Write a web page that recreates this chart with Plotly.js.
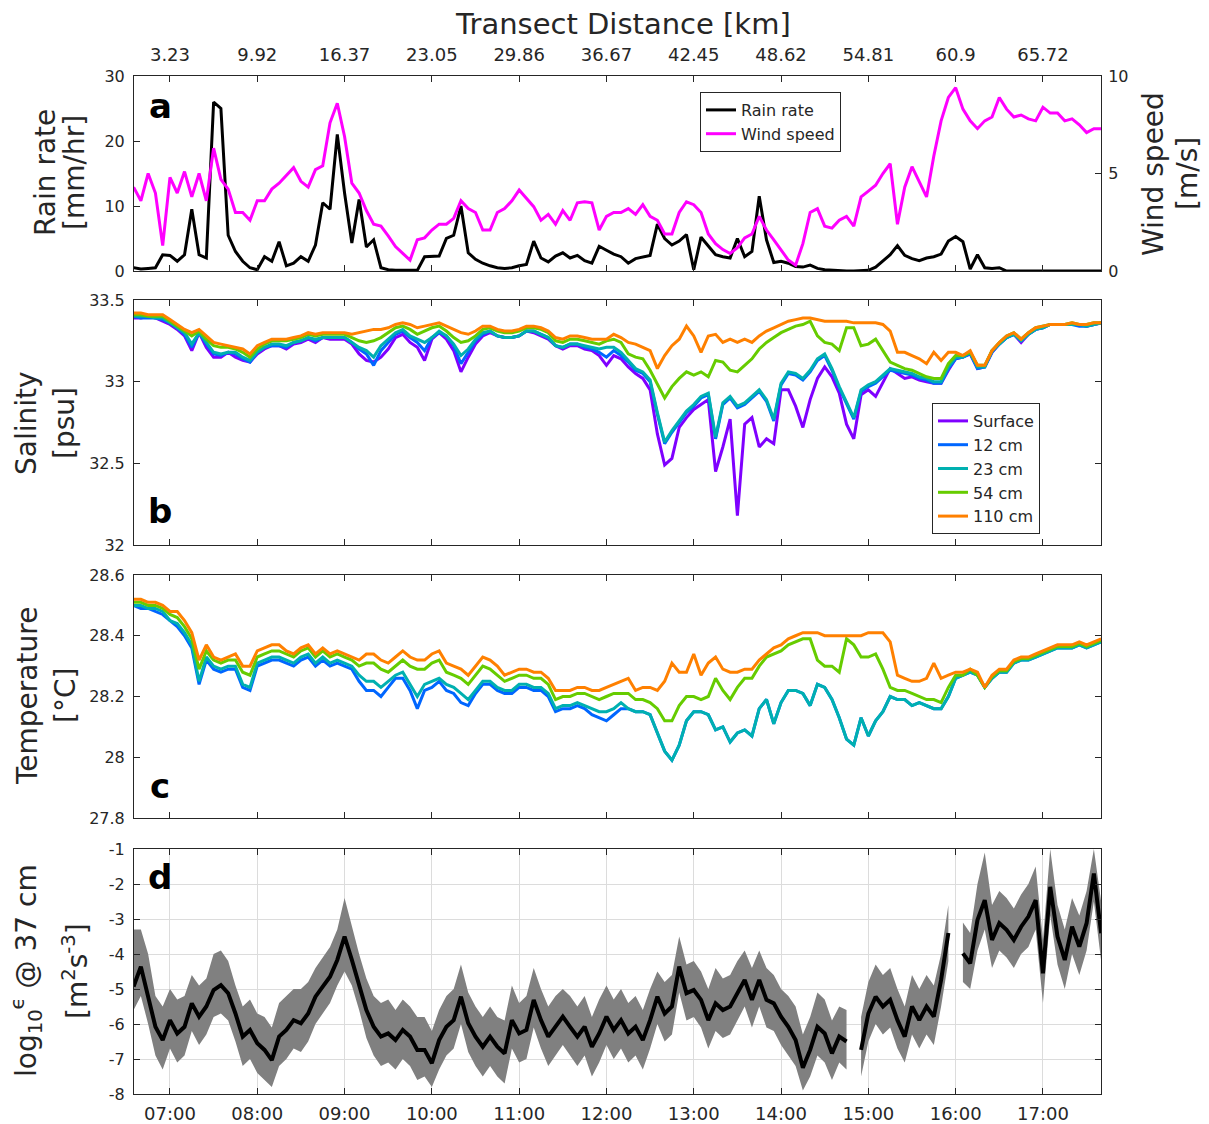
<!DOCTYPE html>
<html><head><meta charset="utf-8">
<script src="https://cdn.plot.ly/plotly-3.0.1.min.js"></script>
<style>body{margin:0;background:#fff}#chart{width:1209px;height:1124px}</style>
</head><body><div id="chart"></div>
<script>
// ---- sampling: every 5 minutes starting 06:35 ----
const startHour = 6 + 35/60;
const stepHours = 5/60;

const hourTicks = [7,8,9,10,11,12,13,14,15,16,17];
const hourLabels = ['07:00','08:00','09:00','10:00','11:00','12:00','13:00','14:00','15:00','16:00','17:00'];
const distLabels = ['3.23','9.92','16.37','23.05','29.86','36.67','42.45','48.62','54.81','60.9','65.72'];
const epsTickVals = [-8,-7,-6,-5,-4,-3,-2,-1];
const epsTickText = ['-8','-7','-6','-5','-4','-3','-2','-1'];

// ---- panel a ----
const rainRate = [
 0.5,0.3,0.4,0.5,2.5,2.4,1.5,2.5,9.5,2.5,
 2.0,26,25,5.5,3.0,1.5,0.5,0.2,2.2,1.5,
 4.5,0.8,1.2,2.2,1.5,4.0,10.5,9.5,21,12,
 4.3,11,3.7,4.8,0.5,0.2,0.1,0.1,0.1,0.1,
 2.2,2.2,2.3,5.0,5.5,10,2.8,1.8,1.2,0.8,
 0.5,0.4,0.5,0.8,1.0,4.6,2.0,1.4,2.3,2.8,
 2.0,2.4,1.6,1.2,3.8,3.2,2.6,2.2,1.2,1.9,
 2.2,2.4,7.2,5.0,4.0,4.6,5.6,0.2,5.2,3.8,
 2.5,2.2,2.0,5.0,2.2,3.0,11.5,4.8,1.3,1.5,
 1.2,0.7,0.6,0.9,0.4,0.2,0.1,0,0,0,
 0,0.1,0.6,1.6,2.5,3.9,2.4,1.9,1.6,2.0,
 2.2,2.6,4.6,5.3,4.5,0.3,2.5,0.5,0.4,0.5,
 0,0,0,0,0,0,0,0,0,0,0,0,0,0];
const windSpeed = [
 4.3,3.6,5.0,4.0,1.3,4.8,4.0,5.1,3.8,5.0,
 3.6,6.3,4.7,4.2,3.0,3.0,2.6,3.6,3.6,4.2,
 4.5,4.9,5.3,4.6,4.3,5.2,5.4,7.6,8.6,6.9,
 4.5,4.0,3.1,2.4,2.3,1.8,1.25,0.9,0.56,1.6,
 1.7,2.1,2.4,2.4,2.7,3.6,3.2,3.0,2.1,2.1,
 3.0,3.2,3.6,4.15,3.7,3.3,2.6,2.9,2.4,3.1,
 2.6,3.5,3.55,3.5,2.1,2.8,3.0,3.0,3.2,2.9,
 3.4,2.8,2.6,1.9,1.9,3.0,3.55,3.4,3.0,1.9,
 1.4,1.1,0.9,1.2,1.7,1.9,2.8,2.1,1.6,1.1,
 0.56,0.3,1.4,3.0,3.2,2.3,2.2,2.6,2.8,2.3,
 3.8,4.1,4.4,5.0,5.5,2.4,4.3,5.35,4.6,3.8,
 5.9,7.7,8.9,9.4,8.3,7.7,7.3,7.7,7.9,8.9,
 8.3,7.9,8.0,7.8,7.7,8.4,8.1,8.1,7.7,7.8,7.5,7.1,7.3,7.3];

// ---- panel b: salinity [psu] ----
const salSurface = [
 33.39,33.39,33.40,33.39,33.37,33.35,33.32,33.28,33.19,33.30,
 33.21,33.15,33.15,33.18,33.15,33.13,33.12,33.17,33.20,33.22,
 33.22,33.20,33.23,33.24,33.26,33.24,33.27,33.26,33.26,33.26,
 33.23,33.17,33.13,33.12,33.15,33.20,33.27,33.29,33.24,33.21,
 33.13,33.26,33.30,33.26,33.19,33.06,33.15,33.23,33.28,33.30,
 33.28,33.27,33.27,33.28,33.31,33.30,33.28,33.26,33.22,33.20,
 33.22,33.22,33.20,33.19,33.16,33.10,33.16,33.14,33.09,33.05,
 33.02,32.95,32.68,32.49,32.53,32.72,32.78,32.83,32.86,32.89,
 32.45,32.60,32.77,32.18,32.74,32.78,32.60,32.65,32.62,32.95,
 32.95,32.85,32.72,32.89,33.02,33.09,33.03,32.93,32.74,32.65,
 32.92,32.95,32.91,33.00,33.08,33.05,33.02,33.03,33.01,33.00,
 32.99,32.99,33.07,33.14,33.15,33.17,33.08,33.09,33.18,33.23,
 33.27,33.29,33.24,33.29,33.32,33.33,33.35,33.35,33.35,33.35,33.35,33.34,33.35,33.36];
const sal12 = [
 33.40,33.39,33.39,33.39,33.38,33.36,33.33,33.29,33.21,33.30,
 33.23,33.17,33.16,33.18,33.17,33.14,33.12,33.18,33.21,33.22,
 33.22,33.21,33.24,33.25,33.27,33.25,33.27,33.27,33.27,33.27,
 33.24,33.20,33.17,33.10,33.19,33.24,33.29,33.31,33.27,33.24,
 33.19,33.27,33.30,33.28,33.22,33.11,33.18,33.25,33.29,33.31,
 33.28,33.27,33.27,33.28,33.31,33.31,33.29,33.27,33.22,33.21,
 33.23,33.23,33.21,33.20,33.18,33.15,33.19,33.16,33.12,33.07,
 33.05,33.00,32.80,32.62,32.69,32.75,32.81,32.85,32.90,32.92,
 32.65,32.86,32.90,32.84,32.86,32.90,32.94,32.88,32.76,32.98,
 33.05,33.04,33.01,33.06,33.13,33.16,33.07,32.96,32.86,32.77,
 32.94,32.97,32.99,33.03,33.07,33.06,33.05,33.04,33.02,33.01,
 32.99,32.99,33.08,33.14,33.15,33.17,33.08,33.09,33.18,33.23,
 33.27,33.29,33.25,33.29,33.32,33.33,33.35,33.35,33.35,33.35,33.34,33.34,33.35,33.36];
const sal23 = [
 33.40,33.40,33.40,33.39,33.39,33.36,33.33,33.30,33.23,33.30,
 33.24,33.18,33.17,33.18,33.18,33.15,33.13,33.18,33.21,33.23,
 33.23,33.22,33.24,33.25,33.27,33.26,33.27,33.27,33.27,33.27,
 33.24,33.21,33.19,33.15,33.22,33.26,33.30,33.32,33.28,33.26,
 33.24,33.27,33.31,33.28,33.23,33.16,33.20,33.26,33.30,33.31,
 33.28,33.27,33.27,33.28,33.31,33.31,33.29,33.27,33.22,33.21,
 33.23,33.23,33.22,33.21,33.20,33.21,33.21,33.18,33.13,33.08,
 33.06,33.01,32.81,32.63,32.70,32.76,32.82,32.86,32.91,32.93,
 32.66,32.87,32.91,32.85,32.87,32.91,32.95,32.89,32.77,32.99,
 33.06,33.05,33.02,33.07,33.14,33.17,33.08,32.97,32.87,32.78,
 32.95,32.98,33.00,33.04,33.08,33.07,33.06,33.05,33.03,33.02,
 33.00,33.00,33.09,33.15,33.15,33.18,33.09,33.09,33.19,33.23,
 33.27,33.29,33.25,33.29,33.32,33.33,33.35,33.35,33.35,33.35,33.35,33.34,33.35,33.36];
const sal54 = [
 33.41,33.41,33.40,33.40,33.40,33.37,33.34,33.31,33.28,33.31,
 33.26,33.22,33.21,33.21,33.20,33.18,33.15,33.20,33.23,33.25,
 33.25,33.25,33.26,33.27,33.29,33.28,33.29,33.29,33.29,33.29,
 33.27,33.25,33.24,33.25,33.27,33.30,33.33,33.34,33.32,33.29,
 33.31,33.33,33.34,33.31,33.27,33.24,33.25,33.28,33.32,33.33,
 33.31,33.30,33.30,33.31,33.33,33.33,33.32,33.30,33.25,33.24,
 33.26,33.26,33.25,33.24,33.23,33.25,33.26,33.24,33.17,33.15,
 33.14,33.07,32.98,32.90,32.97,33.02,33.06,33.04,33.06,33.03,
 33.13,33.12,33.07,33.06,33.10,33.14,33.20,33.24,33.27,33.30,
 33.32,33.34,33.35,33.37,33.28,33.24,33.23,33.19,33.33,33.33,
 33.22,33.23,33.26,33.19,33.12,33.10,33.08,33.07,33.05,33.03,
 33.02,33.02,33.11,33.16,33.16,33.18,33.10,33.10,33.19,33.24,
 33.28,33.30,33.26,33.30,33.33,33.34,33.35,33.35,33.35,33.36,33.35,33.35,33.36,33.36];
const sal110 = [
 33.42,33.42,33.41,33.41,33.41,33.38,33.35,33.32,33.30,33.32,
 33.28,33.24,33.23,33.22,33.21,33.20,33.17,33.22,33.24,33.26,
 33.26,33.26,33.27,33.28,33.30,33.29,33.30,33.30,33.30,33.30,
 33.29,33.30,33.31,33.32,33.32,33.33,33.35,33.36,33.35,33.33,
 33.34,33.35,33.36,33.34,33.32,33.30,33.29,33.31,33.34,33.34,
 33.32,33.31,33.31,33.32,33.34,33.34,33.33,33.31,33.27,33.26,
 33.28,33.28,33.27,33.26,33.26,33.26,33.29,33.27,33.24,33.23,
 33.21,33.19,33.08,33.16,33.22,33.26,33.34,33.28,33.18,33.28,
 33.29,33.24,33.26,33.24,33.26,33.24,33.28,33.31,33.33,33.35,
 33.37,33.38,33.39,33.39,33.38,33.37,33.37,33.37,33.37,33.36,
 33.36,33.36,33.36,33.35,33.31,33.18,33.18,33.16,33.14,33.11,
 33.18,33.13,33.18,33.18,33.16,33.19,33.10,33.10,33.19,33.24,
 33.28,33.30,33.26,33.30,33.33,33.34,33.35,33.35,33.35,33.36,33.35,33.35,33.36,33.36];

// ---- panel c: temperature [°C] ----
const temp12 = [
 28.50,28.49,28.49,28.48,28.47,28.45,28.43,28.40,28.36,28.24,
 28.32,28.29,28.28,28.29,28.29,28.23,28.22,28.30,28.31,28.32,
 28.32,28.31,28.30,28.32,28.33,28.30,28.32,28.30,28.31,28.30,
 28.29,28.25,28.22,28.22,28.20,28.23,28.26,28.26,28.22,28.16,
 28.22,28.23,28.25,28.22,28.21,28.18,28.17,28.21,28.24,28.24,
 28.22,28.21,28.21,28.23,28.23,28.22,28.22,28.20,28.15,28.16,
 28.16,28.17,28.16,28.14,28.13,28.12,28.14,28.16,28.16,28.15,
 28.15,28.14,28.08,28.02,27.99,28.04,28.12,28.15,28.15,28.14,
 28.09,28.10,28.05,28.08,28.09,28.07,28.16,28.19,28.11,28.18,
 28.22,28.22,28.21,28.17,28.24,28.23,28.19,28.13,28.06,28.04,
 28.13,28.07,28.12,28.15,28.20,28.19,28.19,28.17,28.18,28.17,
 28.16,28.16,28.20,28.26,28.27,28.28,28.27,28.23,28.26,28.28,
 28.28,28.31,28.32,28.32,28.33,28.34,28.35,28.36,28.36,28.36,28.37,28.36,28.37,28.38];
const temp23 = [
 28.50,28.50,28.49,28.49,28.48,28.45,28.44,28.41,28.37,28.25,
 28.33,28.30,28.29,28.30,28.30,28.24,28.23,28.31,28.32,28.33,
 28.33,28.32,28.31,28.33,28.34,28.31,28.33,28.31,28.32,28.31,
 28.30,28.27,28.25,28.25,28.23,28.25,28.27,28.28,28.24,28.20,
 28.24,28.25,28.26,28.24,28.23,28.21,28.19,28.22,28.25,28.25,
 28.23,28.22,28.22,28.24,28.24,28.23,28.23,28.21,28.16,28.17,
 28.17,28.18,28.17,28.16,28.15,28.15,28.16,28.18,28.16,28.15,
 28.15,28.14,28.08,28.02,27.99,28.04,28.12,28.15,28.15,28.14,
 28.09,28.10,28.05,28.08,28.09,28.07,28.16,28.19,28.11,28.18,
 28.22,28.22,28.21,28.17,28.24,28.23,28.19,28.13,28.06,28.04,
 28.13,28.07,28.12,28.15,28.20,28.19,28.19,28.17,28.18,28.17,
 28.16,28.16,28.20,28.26,28.27,28.28,28.27,28.23,28.26,28.28,
 28.28,28.31,28.32,28.32,28.33,28.34,28.35,28.36,28.36,28.36,28.37,28.36,28.37,28.38];
const temp54 = [
 28.51,28.51,28.50,28.50,28.49,28.47,28.46,28.43,28.39,28.29,
 28.35,28.32,28.31,28.32,28.32,28.28,28.27,28.33,28.34,28.35,
 28.35,28.34,28.33,28.35,28.36,28.33,28.35,28.33,28.34,28.33,
 28.32,28.30,28.31,28.31,28.29,28.28,28.30,28.32,28.30,28.29,
 28.29,28.31,28.32,28.28,28.27,28.26,28.24,28.27,28.30,28.29,
 28.27,28.25,28.26,28.27,28.27,28.26,28.26,28.24,28.19,28.20,
 28.20,28.21,28.21,28.20,28.19,28.20,28.21,28.21,28.21,28.19,
 28.19,28.18,28.16,28.12,28.12,28.17,28.20,28.20,28.19,28.20,
 28.26,28.22,28.19,28.23,28.26,28.26,28.30,28.33,28.34,28.35,
 28.37,28.38,28.39,28.39,28.32,28.30,28.30,28.28,28.39,28.37,
 28.33,28.33,28.34,28.29,28.23,28.22,28.22,28.21,28.20,28.19,
 28.19,28.18,28.23,28.27,28.27,28.29,28.27,28.23,28.265,28.285,
 28.285,28.315,28.325,28.325,28.335,28.345,28.355,28.365,28.365,28.365,28.375,28.365,28.375,28.385];
const temp110 = [
 28.52,28.52,28.51,28.51,28.50,28.48,28.48,28.45,28.41,28.32,
 28.37,28.33,28.32,28.33,28.34,28.30,28.30,28.35,28.36,28.37,
 28.37,28.35,28.34,28.36,28.37,28.34,28.36,28.34,28.35,28.34,
 28.33,28.32,28.34,28.34,28.32,28.31,28.33,28.35,28.33,28.32,
 28.32,28.34,28.35,28.31,28.30,28.29,28.27,28.30,28.33,28.32,
 28.30,28.27,28.28,28.29,28.29,28.28,28.28,28.26,28.22,28.22,
 28.22,28.23,28.23,28.22,28.22,28.23,28.24,28.25,28.26,28.22,
 28.23,28.23,28.22,28.25,28.31,28.28,28.28,28.34,28.27,28.31,
 28.33,28.29,28.28,28.28,28.29,28.29,28.32,28.34,28.36,28.37,
 28.39,28.40,28.41,28.41,28.41,28.40,28.40,28.40,28.40,28.40,
 28.40,28.41,28.41,28.41,28.38,28.27,28.26,28.25,28.25,28.26,
 28.31,28.26,28.27,28.28,28.28,28.29,28.28,28.23,28.27,28.29,
 28.29,28.32,28.33,28.33,28.34,28.35,28.36,28.37,28.37,28.37,28.38,28.37,28.38,28.39];

// ---- panel d: log10 epsilon at 37 cm ----
const logEps = [
 -4.93,-4.36,-5.22,-6.08,-6.46,-5.89,-6.27,-6.08,-5.41,-5.79,
 -5.50,-5.03,-4.89,-5.12,-5.70,-6.36,-6.17,-6.55,-6.74,-7.03,
 -6.36,-6.17,-5.89,-5.98,-5.70,-5.22,-4.93,-4.65,-4.17,-3.50,
 -4.17,-4.84,-5.60,-6.08,-6.36,-6.27,-6.46,-6.17,-6.36,-6.74,
 -6.74,-7.12,-6.46,-6.08,-5.89,-5.22,-5.98,-6.36,-6.65,-6.36,
 -6.65,-6.84,-5.89,-6.27,-6.17,-5.31,-5.89,-6.36,-6.08,-5.79,
 -6.08,-6.36,-6.08,-6.65,-6.27,-5.79,-6.17,-5.89,-6.27,-6.08,
 -6.46,-5.89,-5.22,-5.70,-5.50,-4.36,-5.12,-5.03,-5.31,-5.89,
 -5.41,-5.60,-5.50,-5.12,-4.74,-5.31,-4.74,-5.31,-5.41,-5.79,
 -6.08,-6.46,-7.25,-6.74,-6.08,-6.27,-6.84,-6.36,-6.50,null,
 -6.74,-5.70,-5.22,-5.50,-5.31,-5.89,-6.36,-5.50,-5.89,-5.50,
 -5.79,-4.74,-3.40,null,-3.98,-4.27,-3.03,-2.46,-3.60,-3.12,
 -3.31,-3.60,-3.22,-2.93,-2.46,-4.55,-2.08,-3.50,-4.17,-3.22,-3.79,-3.12,-1.70,-3.41];
const logEpsHigh = [
 -3.3,-3.3,-4.0,-5.2,-5.5,-5.0,-5.3,-5.2,-4.6,-4.9,
 -4.7,-4.0,-3.9,-4.2,-4.9,-5.5,-5.3,-5.7,-5.8,-6.1,
 -5.4,-5.2,-5.0,-5.0,-4.8,-4.4,-4.1,-3.8,-3.3,-2.4,
 -3.2,-4.0,-4.7,-5.2,-5.4,-5.3,-5.6,-5.3,-5.5,-5.8,
 -5.8,-6.2,-5.6,-5.2,-5.0,-4.3,-5.1,-5.5,-5.8,-5.5,
 -5.8,-5.9,-4.9,-5.4,-5.2,-4.4,-5.0,-5.5,-5.2,-5.0,
 -5.2,-5.5,-5.2,-5.8,-5.3,-4.9,-5.3,-5.0,-5.4,-5.2,
 -5.6,-5.0,-4.5,-4.8,-4.6,-3.5,-4.3,-4.2,-4.5,-5.0,
 -4.4,-4.7,-4.6,-4.2,-3.9,-4.4,-3.9,-4.4,-4.6,-5.0,
 -5.2,-5.5,-6.3,-5.8,-5.1,-5.3,-5.9,-5.5,-5.6,null,
 -5.8,-4.8,-4.3,-4.6,-4.4,-5.0,-5.5,-4.6,-5.0,-4.6,
 -4.9,-4.0,-2.6,null,-3.1,-3.4,-2.0,-1.1,-2.6,-2.2,
 -2.4,-2.7,-2.3,-2.0,-1.5,-3.6,-1.0,-2.6,-3.3,-2.4,-2.9,-2.2,-1.0,-2.5];
const logEpsLow = [
 -5.6,-5.2,-6.0,-6.9,-7.3,-6.7,-7.1,-6.9,-6.2,-6.6,
 -6.3,-5.8,-5.7,-5.9,-6.5,-7.2,-7.0,-7.4,-7.6,-7.8,
 -7.2,-7.0,-6.7,-6.8,-6.5,-6.0,-5.7,-5.4,-4.9,-4.5,
 -4.9,-5.6,-6.4,-6.9,-7.2,-7.1,-7.3,-7.0,-7.2,-7.6,
 -7.5,-7.8,-7.3,-6.9,-6.7,-6.0,-6.8,-7.2,-7.5,-7.2,
 -7.5,-7.7,-6.7,-7.1,-7.0,-6.1,-6.7,-7.2,-6.9,-6.6,
 -6.9,-7.2,-6.9,-7.5,-7.1,-6.6,-7.0,-6.7,-7.1,-6.9,
 -7.3,-6.7,-6.0,-6.5,-6.3,-5.1,-5.9,-5.8,-6.1,-6.7,
 -6.2,-6.4,-6.3,-5.9,-5.5,-6.1,-5.5,-6.1,-6.2,-6.6,
 -6.9,-7.2,-7.9,-7.5,-6.9,-7.1,-7.6,-7.1,-7.3,null,
 -7.5,-6.5,-6.0,-6.3,-6.1,-6.7,-7.1,-6.3,-6.7,-6.3,
 -6.6,-5.5,-4.2,null,-4.8,-5.0,-3.9,-3.3,-4.4,-3.9,
 -4.1,-4.4,-4.0,-3.8,-3.3,-5.4,-2.9,-4.3,-5.0,-4.0,-4.6,-3.9,-2.5,-4.2];

// ---- build ----
const times = rainRate.map((_, i) => startHour + i * stepHours);
const xRange = [6.588, 17.665];

// band outline: high edge forward, low edge back, one closed shape per gap-free segment
function bandOutline(xs, lo, hi) {
  const X = [], Y = [];
  let seg = [];
  const flush = () => {
    if (seg.length) {
      seg.forEach(i => { X.push(xs[i]); Y.push(hi[i]); });
      seg.slice().reverse().forEach(i => { X.push(xs[i]); Y.push(lo[i]); });
      X.push(null); Y.push(null);
    }
    seg = [];
  };
  xs.forEach((_, i) => { if (hi[i] === null || lo[i] === null) flush(); else seg.push(i); });
  flush();
  return {x: X, y: Y};
}
const band = bandOutline(times, logEpsLow, logEpsHigh);

const AX = '#262626';
const FONT = 'DejaVu Sans';
const C = {surf:'#7f00ff', c12:'#0066ff', c23:'#00b0b0', c54:'#66cc00', c110:'#ff8000'};

function ln(x, y, xa, ya, color, width, name, extra) {
  return Object.assign({type:'scatter', mode:'lines', x:x, y:y, xaxis:xa, yaxis:ya,
    name:name, line:{color:color, width:width}, hoverinfo:'skip'}, extra || {});
}

const traces = [
  ln(times, rainRate, 'x4', 'y4', '#000000', 3, 'Rain rate', {legend:'legend', legendrank:1}),
  ln(times, windSpeed, 'x4', 'y5', '#ff00ff', 3, 'Wind speed', {legend:'legend', legendrank:2}),
  ln(times, salSurface, 'x3', 'y3', C.surf, 3, 'Surface', {legend:'legend2', legendrank:1}),
  ln(times, sal12, 'x3', 'y3', C.c12, 3, '12 cm', {legend:'legend2', legendrank:2}),
  ln(times, sal23, 'x3', 'y3', C.c23, 3, '23 cm', {legend:'legend2', legendrank:3}),
  ln(times, sal54, 'x3', 'y3', C.c54, 3, '54 cm', {legend:'legend2', legendrank:4}),
  ln(times, sal110, 'x3', 'y3', C.c110, 3, '110 cm', {legend:'legend2', legendrank:5}),
  ln(times, temp12, 'x2', 'y2', C.c12, 3, '12 cm', {showlegend:false}),
  ln(times, temp23, 'x2', 'y2', C.c23, 3, '23 cm', {showlegend:false}),
  ln(times, temp54, 'x2', 'y2', C.c54, 3, '54 cm', {showlegend:false}),
  ln(times, temp110, 'x2', 'y2', C.c110, 3, '110 cm', {showlegend:false}),
  ln(band.x, band.y, 'x', 'y', 'rgba(0,0,0,0)', 0, 'range', {showlegend:false, fill:'toself', fillcolor:'#808080'}),
  ln(times, logEps, 'x', 'y', '#000000', 4, 'log eps', {showlegend:false})
];

const baseX = {range:xRange, tickvals:hourTicks, showline:true, linecolor:AX, linewidth:1,
  ticks:'inside', ticklen:6, tickcolor:AX, mirror:'ticks', zeroline:false, showgrid:false,
  automargin:false, fixedrange:true};
const baseY = {showline:true, linecolor:AX, linewidth:1, ticks:'inside', ticklen:6, tickcolor:AX,
  mirror:'ticks', zeroline:false, showgrid:false, automargin:false, fixedrange:true,
  ticklabelstandoff:5, tickfont:{family:FONT, size:16, color:AX}};

const P = (px) => (px - 134) / 967;
const Q = (py) => (1094 - py) / 1018;

function ann(text, px, py, size, extra) {
  return Object.assign({text:text, xref:'paper', yref:'paper', x:P(px), y:Q(py),
    xanchor:'center', yanchor:'middle', showarrow:false,
    font:{family:FONT, size:size, color:AX}}, extra || {});
}

const layout = {
  width:1209, height:1124,
  margin:{l:134, r:108, t:76, b:30},
  paper_bgcolor:'#ffffff', plot_bgcolor:'#ffffff',
  font:{family:FONT, color:AX},
  xaxis: Object.assign({}, baseX, {anchor:'y', ticktext:hourLabels, showticklabels:true,
    ticklabelstandoff:3, tickfont:{family:FONT, size:18, color:AX}, showgrid:true, gridcolor:'#dcdcdc'}),
  yaxis: Object.assign({}, baseY, {domain:[0, Q(849)], range:[-8,-1], tickvals:epsTickVals,
    ticktext:epsTickText, showgrid:true, gridcolor:'#dcdcdc'}),
  xaxis2: Object.assign({}, baseX, {anchor:'y2', showticklabels:false}),
  yaxis2: Object.assign({}, baseY, {domain:[Q(818), Q(575)], range:[27.8,28.6], dtick:0.2, tick0:27.8}),
  xaxis3: Object.assign({}, baseX, {anchor:'y3', showticklabels:false}),
  yaxis3: Object.assign({}, baseY, {domain:[Q(545), Q(300)], range:[32,33.5], dtick:0.5, tick0:32}),
  xaxis4: Object.assign({}, baseX, {anchor:'y4', side:'top', ticktext:distLabels, showticklabels:true,
    ticklabelstandoff:7, tickfont:{family:FONT, size:18, color:AX}}),
  yaxis4: Object.assign({}, baseY, {domain:[Q(271), 1], range:[0,30], tickvals:[0,10,20,30], mirror:false}),
  yaxis5: Object.assign({}, baseY, {overlaying:'y4', anchor:'x4', side:'right', range:[0,10],
    tickvals:[0,5,10], mirror:false, ticklabelstandoff:3}),
  legend: {x:P(700), y:Q(92), xanchor:'left', yanchor:'top', bgcolor:'#ffffff', traceorder:'normal',
    bordercolor:AX, borderwidth:1, font:{family:FONT, size:16, color:AX}, tracegroupgap:0},
  legend2: {x:P(932), y:Q(403), xanchor:'left', yanchor:'top', bgcolor:'#ffffff', traceorder:'normal',
    bordercolor:AX, borderwidth:1, font:{family:FONT, size:16, color:AX}, tracegroupgap:0},
  annotations: [
    ann('Transect Distance [km]', 623, 24, 29),
    ann('Rain rate', 46, 173, 28, {textangle:-90}),
    ann('[mm/hr]', 75, 173, 28, {textangle:-90}),
    ann('Wind speed', 1153, 174, 28, {textangle:-90}),
    ann('[m/s]', 1187, 174, 28, {textangle:-90}),
    ann('Salinity', 27, 423, 28, {textangle:-90}),
    ann('[psu]', 65, 423, 28, {textangle:-90}),
    ann('Temperature', 27, 696, 28, {textangle:-90}),
    ann('[°C]', 65, 696, 28, {textangle:-90}),
    ann('log<sub>10</sub><sup>ϵ</sup> @ 37 cm', 26, 971, 28, {textangle:-90}),
    ann('[m<sup>2</sup>s<sup>-3</sup>]', 75, 971, 28, {textangle:-90}),
    ann('<b>a</b>', 160, 106, 34, {font:{family:FONT, size:34, color:'#000'}}),
    ann('<b>b</b>', 160, 511, 34, {font:{family:FONT, size:34, color:'#000'}}),
    ann('<b>c</b>', 160, 786, 34, {font:{family:FONT, size:34, color:'#000'}}),
    ann('<b>d</b>', 160, 877, 34, {font:{family:FONT, size:34, color:'#000'}})
  ]
};

Plotly.newPlot('chart', traces, layout, {staticPlot:true, displayModeBar:false});
</script>
</body></html>
